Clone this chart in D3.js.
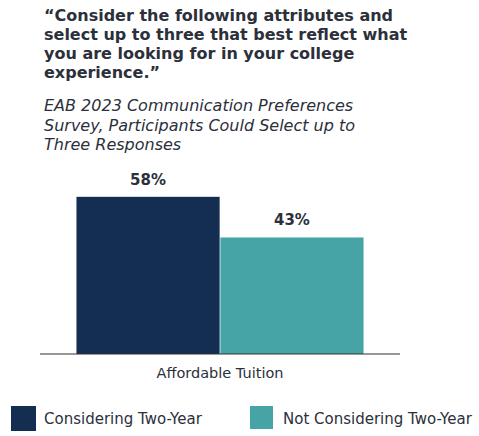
<!DOCTYPE html>
<html>
<head>
<meta charset="utf-8">
<script src="https://cdn.jsdelivr.net/npm/d3@7"></script>
<style>
  body { margin: 0; background: #fff; }
  svg text { font-family: Verdana, "DejaVu Sans", sans-serif; fill: #2b303b; }
</style>
</head>
<body>
<div id="chart"></div>
<script>
// 数据
const categories = ['Affordable Tuition'];
const seriesNames = ['Considering Two-Year', 'Not Considering Two-Year'];
const seriesValues = [58, 43];
const colors = ['#142e52', '#46a4a6'];

const titleLines = [
    '\u201cConsider the following attributes and',
    'select up to three that best reflect what',
    'you are looking for in your college',
    'experience.\u201d'
];
const subtitleLines = [
    'EAB 2023 Communication Preferences',
    'Survey, Participants Could Select up to',
    'Three Responses'
];

const width = 479, height = 436;
const svg = d3.select('#chart').append('svg')
    .attr('width', width)
    .attr('height', height);

// 标题
svg.append('g').selectAll('text')
    .data(titleLines)
    .enter().append('text')
    .attr('x', 44)
    .attr('y', (d, i) => 21 + i * 19)
    .style('font-size', '16px')
    .style('font-weight', 'bold')
    .text(d => d);

svg.append('g').selectAll('text')
    .data(subtitleLines)
    .enter().append('text')
    .attr('x', 44)
    .attr('y', (d, i) => 111 + i * 19.5)
    .style('font-size', '16px')
    .style('font-style', 'italic')
    .text(d => d);

// 坐标
const plot = { left: 40, right: 400, bottom: 354 };
const x0 = d3.scaleBand()
    .domain(categories)
    .range([plot.left, plot.right])
    .paddingInner(0)
    .paddingOuter(0.127);
const x1 = d3.scaleBand()
    .domain(seriesNames)
    .range([0, x0.bandwidth()])
    .paddingInner(0.005);
const y = d3.scaleLinear()
    .domain([0, 100])
    .range([plot.bottom, plot.bottom - 271]);

const groups = svg.append('g').selectAll('g')
    .data(categories)
    .enter().append('g')
    .attr('transform', d => `translate(${x0(d)},0)`);

groups.selectAll('rect')
    .data(() => seriesNames.map((s, i) => ({ s, v: seriesValues[i], c: colors[i] })))
    .enter().append('rect')
    .attr('x', d => x1(d.s))
    .attr('y', d => y(d.v))
    .attr('width', x1.bandwidth())
    .attr('height', d => y(0) - y(d.v))
    .attr('fill', d => d.c);

groups.selectAll('text.val')
    .data(() => seriesNames.map((s, i) => ({ s, v: seriesValues[i] })))
    .enter().append('text')
    .attr('class', 'val')
    .attr('x', d => x1(d.s) + x1.bandwidth() / 2)
    .attr('y', d => y(d.v) - 12)
    .attr('text-anchor', 'middle')
    .style('font-size', '15px')
    .style('font-weight', 'bold')
    .text(d => d.v + '%');

// x 轴
const xAxis = svg.append('g')
    .attr('transform', `translate(0,${plot.bottom})`)
    .call(d3.axisBottom(x0).tickSize(0).tickPadding(14));
xAxis.select('.domain').attr('stroke', '#333').attr('stroke-width', 1.2).attr('d', `M${plot.left},0H${plot.right}`);
xAxis.selectAll('text')
    .style('font-size', '14.5px')
    .style('font-family', 'Verdana, "DejaVu Sans", sans-serif')
    .attr('fill', '#2b303b');

// 图例
const legendItems = [
    { x: 11, tx: 44 },
    { x: 250, tx: 283 }
];
const legend = svg.append('g').selectAll('g')
    .data(seriesNames)
    .enter().append('g');
legend.append('rect')
    .attr('x', (d, i) => legendItems[i].x)
    .attr('y', 406)
    .attr('width', (d, i) => i === 0 ? 25 : 23)
    .attr('height', (d, i) => i === 0 ? 25 : 23)
    .attr('fill', (d, i) => colors[i]);
legend.append('text')
    .attr('x', (d, i) => legendItems[i].tx)
    .attr('y', 424)
    .style('font-size', '15px')
    .text(d => d);
</script>
</body>
</html>
